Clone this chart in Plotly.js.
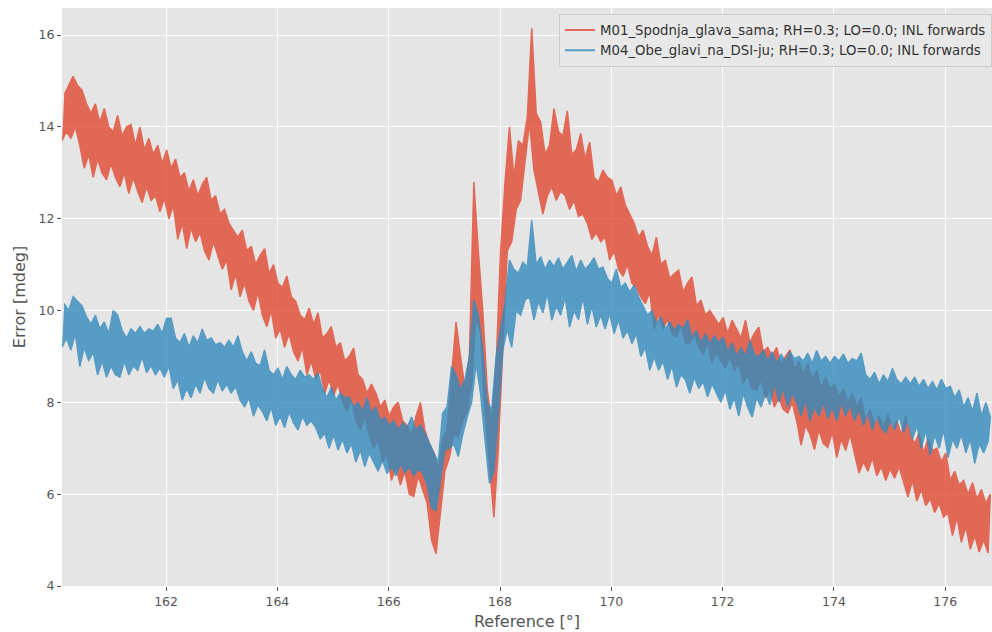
<!DOCTYPE html>
<html><head><meta charset="utf-8">
<script src="https://cdn.plot.ly/plotly-3.0.1.min.js"></script>
<style>html,body{margin:0;padding:0;background:#fff}#chart{width:992px;height:632px}</style>
</head><body><div id="chart"></div>
<script>
const seriesNames = [
  'M01_Spodnja_glava_sama; RH=0.3; LO=0.0; INL forwards',
  'M04_Obe_glavi_na_DSI-ju; RH=0.3; LO=0.0; INL forwards'
];
// sample grid of the reference angle (deg)
const xStart = 160.13;
const xStep = 0.04;
const xTicks = [162, 164, 166, 168, 170, 172, 174, 176];
const yTicks = [4, 6, 8, 10, 12, 14, 16];

// M01 (red): low / high excursions of the noisy trace
const redLo = [
13.7,13.9,13.75,14.0,13.6,13.1,13.4,12.9,13.3,13.0,
12.85,13.2,12.9,12.7,13.0,12.55,12.9,12.6,12.35,12.7,
12.4,12.5,12.15,12.45,12.0,12.3,11.55,11.9,11.35,11.8,
11.5,11.7,11.3,11.1,11.5,11.2,10.9,11.1,10.45,10.8,
10.3,10.6,10.2,10.0,10.4,9.9,9.65,10.0,9.4,9.6,
9.2,9.5,9.1,8.9,9.2,8.6,8.9,8.5,8.7,8.2,
8.5,8.15,8.4,8.0,7.8,8.1,7.6,7.4,7.7,7.3,
7.0,7.2,6.7,6.9,6.3,6.6,6.2,6.5,6.0,5.95,
6.4,6.1,5.8,5.0,4.7,5.6,6.5,6.8,7.3,7.25,
7.6,7.8,8.4,9.9,9.5,7.8,6.6,5.5,7.0,9.1,
11.3,11.5,12.2,12.4,13.2,14.1,13.06,12.6,12.1,12.5,
12.7,12.4,12.6,12.5,12.2,12.4,12.05,12.1,11.9,11.55,
11.7,11.5,11.6,11.1,11.3,10.9,10.75,11.0,10.6,10.5,
10.3,10.15,10.4,9.6,9.9,9.6,9.8,9.5,9.42,9.7,
9.3,9.28,9.5,9.2,9.05,9.3,8.85,9.1,8.9,8.75,
9.0,8.7,8.85,8.42,8.6,8.3,8.27,8.5,8.1,8.3,
7.9,8.1,7.85,7.77,8.0,7.6,7.07,7.5,7.3,6.97,
7.4,7.1,7.02,7.35,6.8,7.2,6.95,7.3,6.9,6.46,
6.7,6.5,6.8,6.4,6.6,6.3,6.55,6.35,6.6,6.3,
5.94,6.3,5.85,6.1,5.75,5.9,5.6,5.8,5.5,5.6,
5.1,5.5,4.95,5.3,4.8,5.1,4.74,5.0,4.72
];
const redHi = [
14.7,14.9,15.1,14.9,14.8,14.5,14.3,14.5,14.1,14.4,
14.0,13.9,14.25,13.8,14.0,14.05,13.6,14.0,13.5,13.75,
13.4,13.6,13.2,13.5,13.1,13.3,12.9,13.0,12.6,12.85,
12.5,12.75,12.9,12.4,12.5,12.1,12.2,11.9,11.75,11.6,
11.75,11.3,11.4,11.0,11.2,11.35,10.8,11.0,10.6,10.5,
10.75,10.3,10.2,9.9,9.8,10.05,9.7,9.95,9.4,9.5,
9.65,9.2,9.3,8.9,9.0,9.18,8.6,8.5,8.2,8.4,
8.2,7.9,8.05,7.7,7.9,8.0,7.6,7.5,7.3,7.7,
8.0,7.4,7.1,6.9,6.5,7.2,7.4,8.5,9.75,9.0,
8.3,9.0,12.8,11.3,10.0,8.3,7.5,8.8,11.3,12.8,
14.0,12.9,13.7,13.6,14.2,16.15,14.3,14.1,13.4,13.6,
14.4,13.9,13.8,14.35,13.4,13.5,13.86,13.3,13.67,12.9,
12.8,13.06,12.9,12.84,12.5,12.69,12.3,12.1,11.9,11.6,
11.75,11.4,11.2,11.6,11.0,11.1,10.7,10.8,10.88,10.4,
10.6,10.73,10.1,10.23,9.9,10.0,9.86,9.7,9.85,9.5,
9.79,9.6,9.4,9.79,9.3,9.5,9.64,9.1,9.2,9.0,
9.2,8.8,9.0,9.14,8.7,8.9,8.6,8.85,8.5,8.7,
8.3,8.55,8.27,8.4,8.1,8.3,8.0,8.2,7.9,8.1,
7.6,7.84,7.5,7.7,7.45,7.75,7.4,7.6,7.3,7.7,
7.3,7.1,7.33,6.9,7.2,6.95,7.0,6.7,6.9,6.3,
6.5,6.2,6.3,6.0,6.25,5.9,6.1,5.8,6.0
];

// M04 (blue)
const blueLo = [
9.2,9.4,9.14,9.5,8.78,9.2,8.9,9.1,8.6,8.9,
8.55,8.8,8.6,8.55,8.9,8.6,8.8,8.7,9.0,8.65,
8.8,8.6,8.75,8.55,8.8,8.3,8.5,8.05,8.3,8.1,
8.4,8.2,8.55,8.3,8.2,8.5,8.25,8.4,8.2,8.35,
8.05,7.9,8.1,7.7,7.95,7.8,7.6,7.9,7.5,7.7,
7.45,7.8,7.55,7.4,7.7,7.5,7.6,7.45,7.2,7.33,
7.0,7.3,6.96,7.2,6.9,7.1,6.7,6.96,6.6,6.9,
6.7,6.5,6.74,6.45,6.6,6.4,6.67,6.46,6.6,6.4,
6.55,6.46,6.2,5.7,5.65,6.3,6.96,7.0,7.1,6.82,
7.3,7.68,8.0,8.85,8.2,7.2,6.24,6.5,7.68,9.14,
9.6,9.2,10.0,9.9,10.23,10.3,9.8,10.2,9.95,10.38,
9.79,10.1,9.9,10.3,9.64,10.0,9.8,10.3,9.7,10.1,
9.64,9.9,9.6,9.94,9.5,9.8,9.4,9.57,9.28,9.5,
9.0,9.2,8.7,9.0,8.7,8.9,8.5,8.8,8.33,8.6,
8.5,8.2,8.55,8.3,8.45,8.12,8.4,8.2,8.0,8.27,
7.85,8.1,7.7,8.2,7.9,7.68,8.1,7.9,8.2,7.95,
8.42,8.0,8.3,7.9,8.2,8.0,7.7,8.05,7.6,7.9,
7.7,8.0,7.65,7.9,7.6,8.0,7.7,7.95,7.6,7.85,
7.5,7.77,7.4,7.7,7.45,7.33,7.6,7.4,7.7,7.35,
7.6,7.2,7.5,7.0,7.4,6.85,7.3,7.0,7.4,6.8,
7.2,7.0,7.3,6.9,7.2,6.67,7.1,6.9,7.15
];
const blueHi = [
10.15,10.0,10.3,10.2,10.1,9.86,9.7,9.9,9.6,9.75,
9.5,10.0,9.9,9.57,9.4,9.6,9.5,9.65,9.5,9.6,
9.55,9.7,9.5,9.83,9.83,9.4,9.3,9.5,9.2,9.45,
9.3,9.6,9.35,9.4,9.25,9.3,9.2,9.35,9.2,9.45,
9.1,8.9,9.1,8.85,8.8,9.14,8.7,8.6,8.75,8.5,
8.78,8.6,8.5,8.7,8.55,8.6,8.5,8.64,8.3,8.1,
8.33,8.05,8.2,8.1,8.12,7.9,8.0,7.8,8.1,7.77,
7.9,7.6,7.68,7.5,7.6,7.4,7.55,7.45,7.68,7.4,
7.5,7.33,7.1,6.9,6.7,7.77,7.9,8.78,8.6,8.27,
8.5,8.99,10.23,9.9,9.14,8.0,7.84,8.99,9.6,10.16,
11.1,10.9,10.81,11.05,10.95,11.97,11.0,11.17,10.9,11.1,
10.95,11.15,10.9,11.05,11.2,10.85,11.1,10.9,11.0,11.15,
10.9,10.95,10.7,10.6,10.9,10.5,10.6,10.4,10.55,10.3,
10.1,9.9,10.0,9.72,9.86,9.6,9.75,9.57,9.7,9.6,
9.8,9.4,9.57,9.3,9.5,9.28,9.45,9.3,9.42,9.1,
9.3,9.0,9.2,9.0,9.35,9.05,8.99,9.14,8.9,9.1,
8.85,9.05,8.9,9.1,8.95,9.0,8.9,9.07,8.85,9.13,
8.9,9.0,8.85,9.0,8.9,9.05,8.85,8.95,8.9,9.07,
8.6,8.5,8.65,8.4,8.6,8.45,8.74,8.5,8.4,8.55,
8.4,8.55,8.35,8.5,8.3,8.45,8.27,8.5,8.3,8.35,
8.1,8.27,7.9,8.1,7.8,8.2,7.7,8.0,7.68
];

// closed band: forward along the high excursions, back along the low ones
function band(lo, hi) {
  const x = [], y = [];
  for (let i = 0; i < hi.length; i++) {
    x.push(xStart + (2 * i + 1) * xStep); y.push(hi[i]);
  }
  for (let i = lo.length - 1; i >= 0; i--) {
    x.push(xStart + 2 * i * xStep); y.push(lo[i]);
  }
  return {x, y};
}
const r = band(redLo, redHi);
const b = band(blueLo, blueHi);
const redColor = '#E24A33';
const blueColor = '#348ABD';

const traces = [
  {x: r.x, y: r.y, type: 'scatter', mode: 'lines', fill: 'toself', fillcolor: redColor,
   line: {width: 1.5, color: redColor}, opacity: 0.8, showlegend: false, hoverinfo: 'skip'},
  {x: b.x, y: b.y, type: 'scatter', mode: 'lines', fill: 'toself', fillcolor: blueColor,
   line: {width: 1.5, color: blueColor}, opacity: 0.8, showlegend: false, hoverinfo: 'skip'},
  // legend entries
  {x: [null], y: [null], type: 'scatter', mode: 'lines', name: seriesNames[0],
   line: {color: redColor, width: 2}, opacity: 0.8},
  {x: [null], y: [null], type: 'scatter', mode: 'lines', name: seriesNames[1],
   line: {color: blueColor, width: 2}, opacity: 0.8}
];

const axisCommon = {
  gridcolor: '#FFFFFF', gridwidth: 1, zeroline: false, showline: false,
  ticks: 'outside', ticklen: 4, tickwidth: 1, tickcolor: '#555555',
  tickfont: {family: 'DejaVu Sans, sans-serif', size: 12.5, color: '#555555'}
};

const layout = {
  width: 992, height: 632,
  margin: {l: 62, r: 0, t: 8, b: 46},
  paper_bgcolor: '#FFFFFF', plot_bgcolor: '#E5E5E5',
  font: {family: 'DejaVu Sans, sans-serif', size: 13, color: '#555555'},
  xaxis: Object.assign({}, axisCommon, {
    range: [160.13, 176.84], tickvals: xTicks, ticktext: xTicks.map(String),
    title: {text: 'Reference [°]', font: {size: 16, color: '#555555'}, standoff: 7}
  }),
  yaxis: Object.assign({}, axisCommon, {
    range: [4, 16.59], tickvals: yTicks, ticktext: yTicks.map(String),
    title: {text: 'Error [mdeg]', font: {size: 16, color: '#555555'}, standoff: 8}
  }),
  showlegend: true,
  legend: {x: 1, xanchor: 'right', y: 0.99, yanchor: 'top',
    bgcolor: '#E8E8E8', bordercolor: '#CCCCCC', borderwidth: 1,
    font: {family: 'DejaVu Sans, sans-serif', size: 13.3, color: '#333333'}}
};

Plotly.newPlot('chart', traces, layout, {displayModeBar: false, staticPlot: true});
</script>
</body></html>
